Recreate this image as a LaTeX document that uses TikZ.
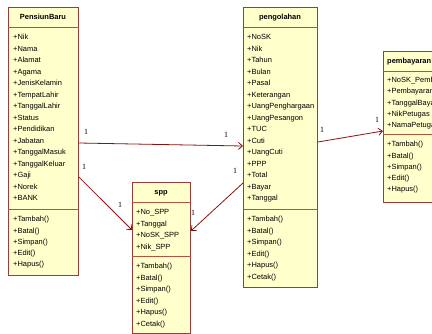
\documentclass[tikz,border=0pt]{standalone}
\usepackage{fontspec}
\setmainfont{Liberation Sans}
\newfontfamily\lblfont{Liberation Serif}
\usetikzlibrary{arrows.meta}
\definecolor{boxfill}{HTML}{FFFFCC}
\definecolor{boxline}{HTML}{9E3A3A}
\definecolor{sepline}{HTML}{B5533C}
\definecolor{assocline}{HTML}{8B1010}
\begin{document}
\begin{tikzpicture}[x=1bp,y=-1bp,
 umlbox/.style={draw=boxline, fill=boxfill, line width=0.9bp, inner sep=0, anchor=north west},
 member/.style={anchor=base west, inner sep=0, font=\fontsize{7.5}{9}\selectfont},
 title/.style={anchor=base, inner sep=0, font=\fontsize{7.5}{9}\selectfont\bfseries},
 sepl/.style={draw=sepline, line width=0.9bp},
 assoc/.style={draw=assocline, line width=0.8bp, -{Straight Barb[length=4bp,width=7bp]}},
 mult/.style={inner sep=0, font=\lblfont\fontsize{8}{9}\selectfont}]
\useasboundingbox (0,0) rectangle (432,334);
\begin{scope}
\clip (0,0) rectangle (432,334);
% boxes
\node[umlbox, minimum width=70bp, minimum height=268bp] (pb) at (8,7) {};
\node[umlbox, minimum width=74bp, minimum height=280bp] (pg) at (243,7) {};
\node[umlbox, minimum width=58bp, minimum height=151bp] (spp) at (132,182) {};
\node[umlbox, minimum width=90bp, minimum height=151bp] (pm) at (383,51) {};
% separators
\draw[sepl] ([yshift=-20bp]pb.north west) -- ([yshift=-20bp]pb.north east);
\draw[sepl] ([yshift=-202bp]pb.north west) -- ([yshift=-202bp]pb.north east);
\draw[sepl] ([yshift=-20bp]pg.north west) -- ([yshift=-20bp]pg.north east);
\draw[sepl] ([yshift=-202bp]pg.north west) -- ([yshift=-202bp]pg.north east);
\draw[sepl] ([yshift=-20bp]spp.north west) -- ([yshift=-20bp]spp.north east);
\draw[sepl] ([yshift=-74bp]spp.north west) -- ([yshift=-74bp]spp.north east);
\draw[sepl] ([yshift=-20bp]pm.north west) -- ([yshift=-20bp]pm.north east);
\draw[sepl] ([yshift=-83bp]pm.north west) -- ([yshift=-83bp]pm.north east);
% titles
\node[title] (pbt) at (43,19.7) {PensiunBaru};
\node[title] (pgt) at (280,19.7) {pengolahan};
\node[title] (sppt) at (161,194.7) {spp};
\node[title, anchor=base west] (pmt) at (387,63.7) {pembayaran};
% members PensiunBaru
\foreach \t [count=\i from 0] in {+Nik,+Nama,+Alamat,+Agama,+JenisKelamin,+TempatLahir,+TanggalLahir,+Status,+Pendidikan,+Jabatan,+TanggalMasuk,+TanggalKeluar,+Gaji,+Norek,+BANK}
  \node[member] (pba\i) at (13,{39.7+\i*11.5}) {\t};
\foreach \t [count=\i from 0] in {+Tambah(),+Batal(),+Simpan(),+Edit(),+Hapus()}
  \node[member] (pbm\i) at (13,{221.7+\i*11.3}) {\t};
% members pengolahan
\foreach \t [count=\i from 0] in {+NoSK,+Nik,+Tahun,+Bulan,+Pasal,+Keterangan,+UangPenghargaan,+UangPesangon,+TUC,+Cuti,+UangCuti,+PPP,+Total,+Bayar,+Tanggal}
  \node[member] (pga\i) at (247,{39.7+\i*11.5}) {\t};
\foreach \t [count=\i from 0] in {+Tambah(),+Batal(),+Simpan(),+Edit(),+Hapus(),+Cetak()}
  \node[member] (pgm\i) at (247,{221.7+\i*11.5}) {\t};
% members spp
\foreach \t [count=\i from 0] in {+No\_SPP,+Tanggal,+NoSK\_SPP,+Nik\_SPP}
  \node[member] (sppa\i) at (136,{214.7+\i*11.5}) {\t};
\foreach \t [count=\i from 0] in {+Tambah(),+Batal(),+Simpan(),+Edit(),+Hapus(),+Cetak()}
  \node[member] (sppm\i) at (136,{268.7+\i*11.5}) {\t};
% members pembayaran
\foreach \t [count=\i from 0] in {+NoSK\_Pembayaran,+Pembayaran,+TanggalBayar,+NikPetugas,+NamaPetugas}
  \node[member] (pma\i) at (387,{82.7+\i*11.2}) {\t};
\foreach \t [count=\i from 0] in {+Tambah(),+Batal(),+Simpan(),+Edit(),+Hapus()}
  \node[member] (pmm\i) at (387,{146.7+\i*11.3}) {\t};
% associations
\draw[assoc] ([yshift=-136bp]pb.north east) -- ([yshift=-139bp]pg.north west);
\draw[assoc] ([yshift=-170bp]pb.north east) -- ([yshift=-48bp]spp.north west);
\draw[assoc] ([yshift=-176bp]pg.north west) -- ([yshift=-49bp]spp.north east);
\draw[assoc] ([yshift=-135bp]pg.north east) -- ([yshift=-80bp]pm.north west);
% multiplicities
\node[mult] (m1) at (86,132) {1};
\node[mult] (m2) at (226,135) {1};
\node[mult] (m3) at (84,167) {1};
\node[mult] (m4) at (120,205) {1};
\node[mult] (m5) at (235,171) {1};
\node[mult] (m6) at (193,213) {1};
\node[mult] (m7) at (322,130) {1};
\node[mult] (m8) at (377,120) {1};
\end{scope}
\end{tikzpicture}
\end{document}
